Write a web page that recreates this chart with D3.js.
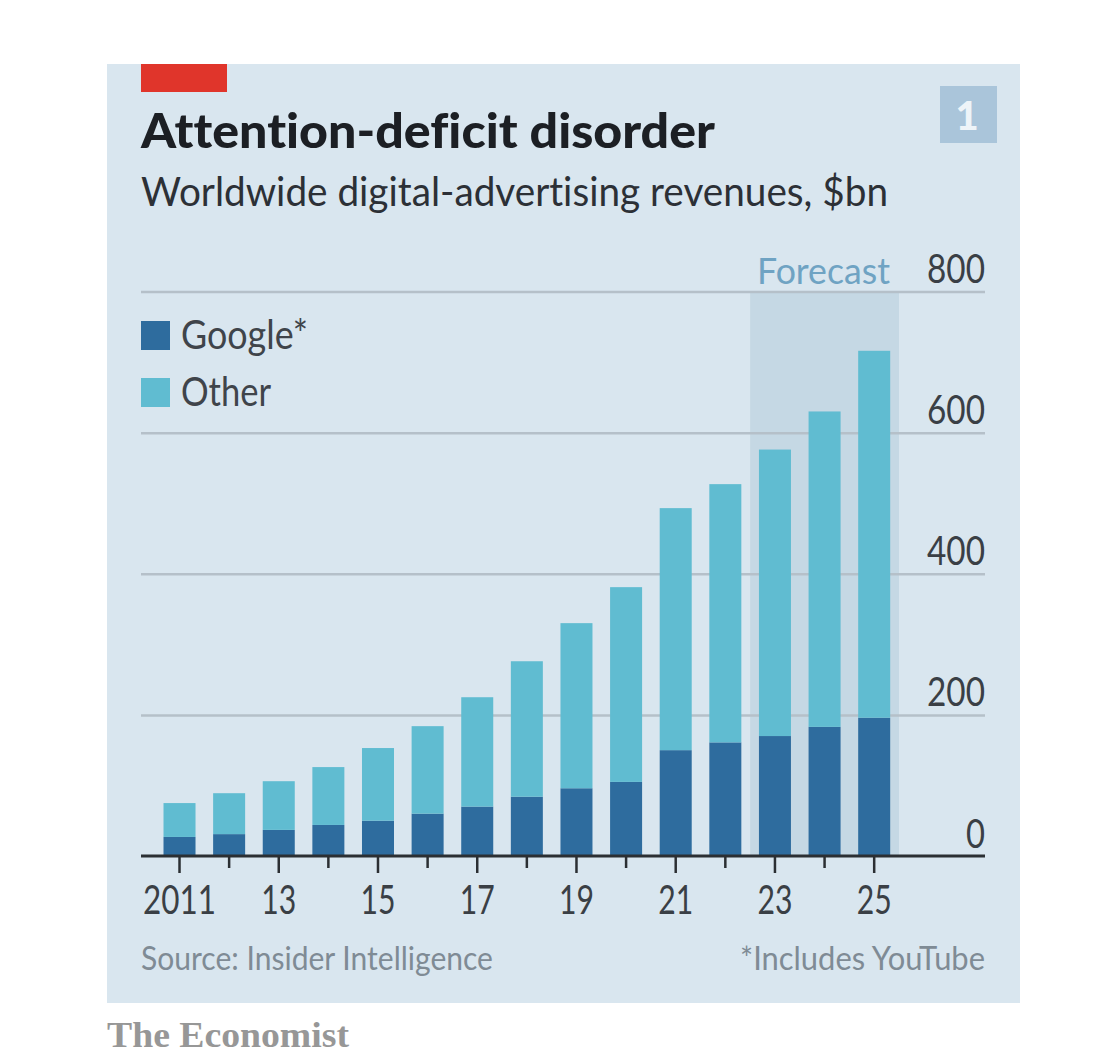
<!DOCTYPE html>
<html><head><meta charset="utf-8">
<script src="https://cdn.jsdelivr.net/npm/d3@7"></script>
<style>html,body{margin:0;padding:0;background:#fff}svg{display:block}text{font-family:Lato,sans-serif;font-variant-ligatures:none}</style>
</head><body><svg id="c" width="1109" height="1064"></svg>
<script>
const years=[2011,2012,2013,2014,2015,2016,2017,2018,2019,2020,2021,2022,2023,2024,2025];
const google=[27,31,37,44,50,60,70,84,96,105,150,161,170,183,196];
const total=[75,89,106,126,153,184,225,276,330,381,493,527,576,630,716];
const other=total.map((t,i)=>t-google[i]);
const forecastYears=[2023,2024,2025];
const yTicks=[0,200,400,600,800];
const yearLabels={2011:"2011",2013:"13",2015:"15",2017:"17",2019:"19",2021:"21",2023:"23",2025:"25"};
const legendItems=["Google*","Other"];
const legendWidths=[127,90];

const svg=d3.select("#c");
const x=d3.scaleBand().domain(years).range([154.7,899]).paddingInner(0.355).paddingOuter(0.1775);
const y=d3.scaleLinear().domain([0,800]).range([856,291.5]);
const GOOGLE="#2e6c9e",OTHER="#60bcd1",INK="#2b2f33";

svg.append("rect").attr("x",107).attr("y",64).attr("width",913).attr("height",939).attr("fill","#d9e6ef");
svg.append("rect").attr("x",141).attr("y",64).attr("width",86).attr("height",28).attr("fill","#e0352b");
svg.append("rect").attr("x",940).attr("y",86).attr("width",57).attr("height",57).attr("fill","#aac5da");
svg.append("text").attr("x",967).attr("y",130).attr("text-anchor","middle").attr("font-size",40).attr("font-weight",900).attr("fill","#eef4f8").text("1");

const T=(s,x0,y0,size,fill,weight,len,anchor)=>{const t=svg.append("text").attr("x",x0).attr("y",y0).attr("font-size",size).attr("fill",fill).attr("font-weight",weight||400).attr("text-anchor",anchor||"start").text(s);
 if(len)t.attr("textLength",len).attr("lengthAdjust","spacingAndGlyphs");return t;};
T("Attention-deficit disorder",141,148,47,"#1c1f24",900,574);
T("Worldwide digital-advertising revenues, $bn",141,206,41,"#2c3036",400,747);

// forecast band
const fx0=x(forecastYears[0])-x.step()*x.paddingInner()/2;
const fx1=x(forecastYears[forecastYears.length-1])+x.bandwidth()+x.step()*x.paddingInner()/2;
svg.append("rect").attr("x",fx0).attr("y",y(800)).attr("width",fx1-fx0).attr("height",y(0)-y(800)).attr("fill","#c5d8e4");
T("Forecast",757,284,37,"#6fa3c3",400,133);

// y axis with gridlines
const yG=svg.append("g").attr("transform","translate(985,0)").call(d3.axisLeft(y).tickValues(yTicks).tickSize(844).tickFormat(d3.format("d")));
yG.select(".domain").remove();
yG.selectAll(".tick line").attr("stroke",d=>d===0?"none":"#b5c0c9").attr("stroke-width",2.5);
yG.selectAll(".tick text").attr("x",0).attr("y",-9).attr("dy",0).attr("text-anchor","end").attr("font-size",41).attr("fill","#3a3f45").attr("textLength",d=>d===0?19:58).attr("lengthAdjust","spacingAndGlyphs").style("font-family","Lato");

// bars
const stack=[{k:"google",v:google,b:()=>0,c:GOOGLE},{k:"other",v:other,b:i=>google[i],c:OTHER}];
stack.forEach(s=>svg.append("g").selectAll("rect").data(years).join("rect")
  .attr("x",d=>x(d)).attr("width",x.bandwidth())
  .attr("y",(d,i)=>y(s.b(i)+s.v[i])).attr("height",(d,i)=>y(s.b(i))-y(s.b(i)+s.v[i])).attr("fill",s.c));

// x axis
const xG=svg.append("g").attr("transform","translate(0,856)").call(d3.axisBottom(x).tickSizeOuter(0).tickSize(17).tickFormat(d=>yearLabels[d]||""));
xG.select(".domain").remove();
xG.selectAll(".tick line").attr("stroke",INK).attr("stroke-width",2.5).attr("y2",d=>yearLabels[d]?17:12);
xG.selectAll(".tick text").attr("y",58).attr("dy",0).attr("font-size",40).attr("fill","#3a3f45").style("font-family","Lato")
  .attr("textLength",d=>yearLabels[d]?(yearLabels[d].length>2?73:35):null).attr("lengthAdjust","spacingAndGlyphs");
svg.append("line").attr("x1",141).attr("x2",985).attr("y1",856).attr("y2",856).attr("stroke",INK).attr("stroke-width",3);

// legend
const leg=svg.append("g").selectAll("g").data(legendItems).join("g").attr("transform",(d,i)=>`translate(141,${321+i*57})`);
leg.append("rect").attr("width",29).attr("height",29).attr("fill",(d,i)=>i?OTHER:GOOGLE);
leg.append("text").attr("x",40).attr("y",28).attr("font-size",40).attr("fill","#3f444a").attr("textLength",(d,i)=>legendWidths[i]).attr("lengthAdjust","spacingAndGlyphs").text(d=>d);

T("Source: Insider Intelligence",141,970,33,"#7f8b95",400,352);
T("*Includes YouTube",985,970,33,"#7f8b95",400,245,"end");
svg.append("text").attr("x",107).attr("y",1047).attr("font-size",36).attr("font-weight",700).attr("fill","#979797").attr("textLength",242).attr("lengthAdjust","spacingAndGlyphs").style("font-family","'Liberation Serif',serif").text("The Economist");
</script></body></html>
